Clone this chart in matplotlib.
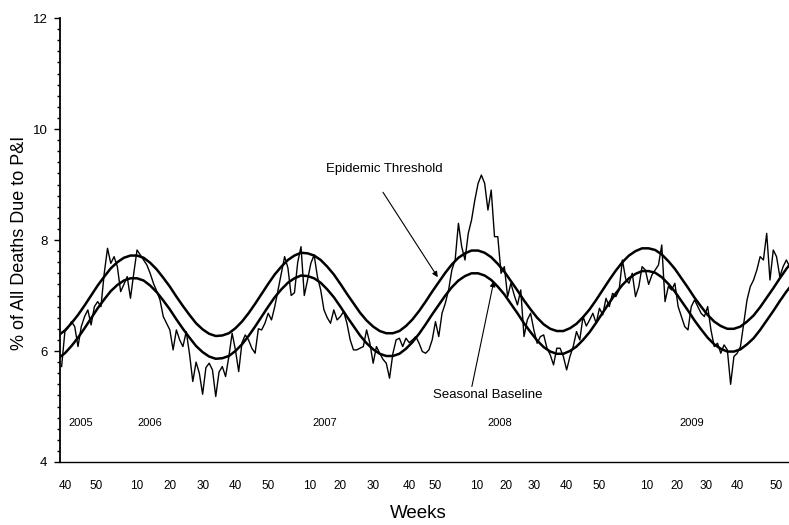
#!/usr/bin/env python3
"""Weekly pneumonia & influenza mortality, 2005-2009, with seasonal baseline and epidemic threshold."""

import matplotlib

matplotlib.use("Agg")
import matplotlib.pyplot as plt
import numpy as np
from matplotlib.ticker import MultipleLocator

plt.rcParams["font.family"] = ["Liberation Sans", "DejaVu Sans"]

OUTPUT = "out.png"

# Weeks are counted from MMWR week 40 of 2005 (= 0).
OBS_START = -1
pi_pct = [
    5.72, 6.35, 6.42, 6.53, 6.44, 6.08, 6.44, 6.62, 6.74, 6.47,
    6.80, 6.89, 6.80, 7.40, 7.85, 7.58, 7.70, 7.52, 7.07, 7.20,
    7.34, 6.95, 7.40, 7.82, 7.73, 7.64, 7.55, 7.40, 7.22, 7.08,
    6.92, 6.62, 6.50, 6.38, 6.02, 6.38, 6.20, 6.08, 6.35, 5.95,
    5.45, 5.80, 5.60, 5.22, 5.70, 5.78, 5.66, 5.18, 5.62, 5.72,
    5.54, 5.90, 6.32, 6.02, 5.63, 6.15, 6.29, 6.20, 6.05, 5.96,
    6.40, 6.38, 6.50, 6.68, 6.56, 6.80, 7.10, 7.40, 7.70, 7.50,
    7.00, 7.05, 7.60, 7.88, 7.00, 7.28, 7.58, 7.73, 7.34, 7.10,
    6.74, 6.60, 6.50, 6.74, 6.56, 6.62, 6.71, 6.50, 6.20, 6.02,
    6.02, 6.05, 6.08, 6.38, 6.14, 5.78, 6.08, 5.96, 5.85, 5.78,
    5.51, 5.95, 6.20, 6.23, 6.08, 6.23, 6.15, 6.20, 6.26, 6.14,
    5.99, 5.96, 6.02, 6.20, 6.53, 6.26, 6.68, 6.86, 7.10, 7.46,
    7.64, 8.30, 7.88, 7.64, 8.12, 8.36, 8.72, 9.02, 9.17, 9.02,
    8.54, 8.90, 8.06, 8.06, 7.40, 7.52, 6.98, 7.22, 7.01, 6.83,
    7.10, 6.26, 6.56, 6.68, 6.38, 6.14, 6.26, 6.29, 6.05, 5.93,
    5.75, 6.05, 6.05, 5.90, 5.66, 5.90, 6.08, 6.35, 6.20, 6.62,
    6.45, 6.56, 6.68, 6.50, 6.77, 6.65, 6.95, 6.80, 7.04, 6.98,
    7.10, 7.64, 7.30, 7.22, 7.40, 6.98, 7.16, 7.52, 7.46, 7.20,
    7.37, 7.46, 7.55, 7.91, 6.89, 7.16, 7.10, 7.22, 6.80, 6.62,
    6.44, 6.38, 6.80, 6.92, 6.80, 6.68, 6.62, 6.80, 6.38, 6.08,
    6.14, 5.96, 6.11, 6.02, 5.40, 5.90, 5.96, 6.08, 6.50, 6.92,
    7.16, 7.28, 7.46, 7.70, 7.64, 8.12, 7.28, 7.82, 7.70, 7.34,
    7.52, 7.64, 7.52,
]

# Model curves, every second week.
CURVE_START = -2
CURVE_STEP = 2
baseline = [
    5.87, 5.96, 6.09, 6.24, 6.41, 6.59, 6.77, 6.93, 7.08, 7.19,
    7.27, 7.31, 7.31, 7.27, 7.18, 7.06, 6.91, 6.75, 6.57, 6.40,
    6.24, 6.09, 5.98, 5.90, 5.86, 5.87, 5.91, 6.00, 6.12, 6.27,
    6.44, 6.62, 6.80, 6.97, 7.11, 7.23, 7.31, 7.36, 7.35, 7.31,
    7.23, 7.11, 6.97, 6.80, 6.62, 6.45, 6.28, 6.14, 6.03, 5.95,
    5.91, 5.91, 5.95, 6.04, 6.16, 6.31, 6.48, 6.66, 6.83, 7.00,
    7.15, 7.27, 7.35, 7.40, 7.40, 7.36, 7.28, 7.16, 7.02, 6.85,
    6.68, 6.50, 6.34, 6.19, 6.07, 5.99, 5.95, 5.95, 6.00, 6.08,
    6.20, 6.34, 6.51, 6.69, 6.87, 7.04, 7.19, 7.31, 7.39, 7.44,
    7.44, 7.41, 7.33, 7.21, 7.07, 6.90, 6.73, 6.55, 6.39, 6.24,
    6.12, 6.04, 5.99, 5.99, 6.03, 6.12, 6.23, 6.38, 6.55, 6.72,
    6.90, 7.07, 7.22,
]
threshold = [
    6.28, 6.37, 6.50, 6.65, 6.82, 7.00, 7.18, 7.34, 7.49, 7.60,
    7.68, 7.72, 7.72, 7.68, 7.59, 7.47, 7.32, 7.16, 6.98, 6.81,
    6.65, 6.50, 6.39, 6.31, 6.27, 6.28, 6.32, 6.41, 6.53, 6.68,
    6.85, 7.03, 7.21, 7.38, 7.52, 7.64, 7.72, 7.77, 7.76, 7.72,
    7.64, 7.52, 7.38, 7.21, 7.03, 6.86, 6.69, 6.55, 6.44, 6.36,
    6.32, 6.32, 6.36, 6.45, 6.57, 6.72, 6.89, 7.07, 7.24, 7.41,
    7.56, 7.68, 7.76, 7.81, 7.81, 7.77, 7.69, 7.57, 7.43, 7.26,
    7.09, 6.91, 6.75, 6.60, 6.48, 6.40, 6.36, 6.36, 6.41, 6.49,
    6.61, 6.75, 6.92, 7.10, 7.28, 7.45, 7.60, 7.72, 7.80, 7.85,
    7.85, 7.82, 7.74, 7.62, 7.48, 7.31, 7.14, 6.96, 6.80, 6.65,
    6.53, 6.45, 6.40, 6.40, 6.44, 6.53, 6.64, 6.79, 6.96, 7.13,
    7.31, 7.48, 7.63,
]

week_ticks = [0, 9.5, 22, 32, 42, 52, 62, 74.5, 84, 94, 105, 113,
              125.5, 134.5, 143, 153, 163, 177.5, 186.5, 195.5, 205, 217]
week_labels = ["40", "50", "10", "20", "30", "40", "50", "10", "20", "30", "40", "50",
               "10", "20", "30", "40", "50", "10", "20", "30", "40", "50"]
years = ["2005", "2006", "2007", "2008", "2009"]
year_weeks = [1.2, 22.0, 75.6, 128.7, 187.5]


def main() -> None:
    obs_weeks = OBS_START + np.arange(len(pi_pct))
    curve_weeks = CURVE_START + CURVE_STEP * np.arange(len(baseline))

    fig = plt.figure(figsize=(7.89, 5.25), dpi=100)
    ax = fig.add_axes([0.076, 0.12, 0.924, 0.8457])

    ax.plot(curve_weeks, threshold, color="black", linewidth=1.8)
    ax.plot(curve_weeks, baseline, color="black", linewidth=1.8)
    ax.plot(obs_weeks, pi_pct, color="black", linewidth=1.0)

    ax.set_xlim(-1.5, 220.8)
    ax.set_ylim(4, 12)
    for side in ("top", "right"):
        ax.spines[side].set_visible(False)
    ax.spines["left"].set_linewidth(1.3)
    ax.spines["bottom"].set_linewidth(1.0)

    ax.set_yticks([4, 6, 8, 10, 12])
    ax.yaxis.set_minor_locator(MultipleLocator(0.2))
    ax.tick_params(axis="y", which="major", length=4, width=1.0, labelsize=9.5, pad=5)
    ax.tick_params(axis="y", which="minor", length=2.5, width=1.0)
    ax.set_xticks(week_ticks)
    ax.set_xticklabels(week_labels)
    ax.tick_params(axis="x", length=0, labelsize=8.5, pad=13)

    for label, wk in zip(years, year_weeks):
        ax.text(wk, 4.70, label, fontsize=8, ha="left", va="center")

    arrow = dict(arrowstyle="-|>", color="black", lw=0.8, mutation_scale=8, shrinkA=0, shrinkB=0)
    ax.annotate("", xy=(113.7, 7.33), xytext=(97.0, 8.86), arrowprops=arrow)
    ax.text(79.6, 9.28, "Epidemic Threshold", fontsize=9.5, ha="left", va="center")
    ax.annotate("", xy=(130.8, 7.26), xytext=(124.1, 5.36), arrowprops=arrow)
    ax.text(112.2, 5.21, "Seasonal Baseline", fontsize=9.5, ha="left", va="center")

    fig.text(20 / 789, 1 - 243 / 525, "% of All Deaths Due to P&I", rotation=90,
             fontsize=13, ha="center", va="center")
    fig.text(418 / 789, 1 - 513 / 525, "Weeks", fontsize=13.5, ha="center", va="center")

    fig.savefig(OUTPUT, dpi=100, facecolor="white")
    plt.close(fig)


if __name__ == "__main__":
    main()
